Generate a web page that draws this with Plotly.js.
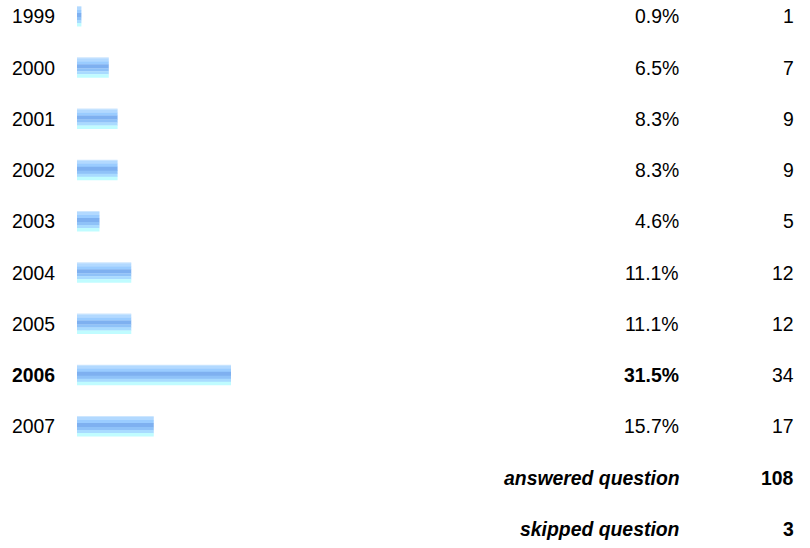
<!DOCTYPE html>
<html>
<head>
<meta charset="utf-8">
<script src="https://cdn.plot.ly/plotly-3.0.1.min.js"></script>
<style>html,body{margin:0;padding:0;background:#fff;}#chart{width:810px;height:548px;}</style>
</head>
<body>
<div id="chart"></div>
<script>
// ---- data ----
var years = ["1999", "2000", "2001", "2002", "2003", "2004", "2005", "2006", "2007"];
var percents = [0.9, 6.5, 8.3, 8.3, 4.6, 11.1, 11.1, 31.5, 15.7];
var counts = [1, 7, 9, 9, 5, 12, 12, 34, 17];
var summaryLabels = ["answered question", "skipped question"];
var summaryValues = [108, 3];

// ---- styling ----
var FONT = "Arial, 'Liberation Sans', sans-serif";
var FS = 19.4;
var ROW_PX = 51.25;
var BAR_PX = 20.5;
// stripes: [top px, height px, color]
var stripes = [
  [0, 1.2, "#cde6fe"],
  [1, 3.2, "#b2d9ff"],
  [4, 3.2, "#9accff"],
  [7, 4.2, "#7eb0f0"],
  [11, 3.2, "#8fc2f8"],
  [14, 3.2, "#a9dbff"],
  [17, 3.5, "#c0fcff"]
];

var rowIdx = years.map(function (_, i) { return i; });
var maxP = Math.max.apply(null, percents);

var traces = stripes.map(function (s) {
  return {
    type: "bar",
    orientation: "h",
    x: percents,
    y: rowIdx,
    width: s[1] / ROW_PX,
    offset: (s[0] - BAR_PX / 2) / ROW_PX,
    marker: { color: s[2], line: { width: 0 } },
    hoverinfo: "skip",
    showlegend: false
  };
});

var annotations = [];
function ann(xPaper, y, text, anchor, bold, italic) {
  var t = text;
  if (bold) t = "<b>" + t + "</b>";
  if (italic) t = "<i>" + t + "</i>";
  annotations.push({
    xref: "paper", yref: "y", x: xPaper, y: y, text: t,
    showarrow: false, xanchor: anchor, yanchor: "middle",
    font: { family: FONT, size: FS, color: "#000" }
  });
}
years.forEach(function (yr, i) {
  var b = percents[i] === maxP;
  ann(9.5 / 810, i, yr, "left", b, false);
  ann(681 / 810, i, percents[i].toFixed(1) + "%", "right", b, false);
  ann(796 / 810, i, String(counts[i]), "right", false, false);
});
summaryLabels.forEach(function (lab, j) {
  var y = years.length + j;
  ann(682 / 810, y, lab, "right", true, true);
  ann(796 / 810, y, String(summaryValues[j]), "right", true, false);
});

var topPx = 16.25;
var x0px = 77, pxPerUnit = 154 / 31.5;

var layout = {
  width: 810, height: 548,
  margin: { l: 0, r: 0, t: 0, b: 0, pad: 0 },
  paper_bgcolor: "#fff", plot_bgcolor: "#fff",
  barmode: "overlay",
  showlegend: false,
  xaxis: {
    range: [-x0px / pxPerUnit, (810 - x0px) / pxPerUnit],
    visible: false, fixedrange: true
  },
  yaxis: {
    range: [(548 - topPx) / ROW_PX, -topPx / ROW_PX],
    visible: false, fixedrange: true
  },
  annotations: annotations
};

Plotly.newPlot("chart", traces, layout, { staticPlot: true, displayModeBar: false });
</script>
</body>
</html>
